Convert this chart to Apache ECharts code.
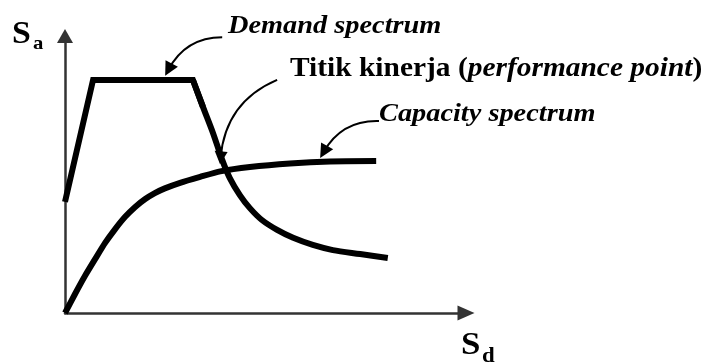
<!DOCTYPE html>
<html>
<head>
<meta charset="utf-8">
<script src="https://cdn.jsdelivr.net/npm/echarts@6/dist/echarts.min.js"></script>
<style>
  html, body { margin: 0; padding: 0; background: #fff; }
  #main { width: 706px; height: 363px; }
</style>
</head>
<body>
<div id="main"></div>
<script>
// demand spectrum: straight rise + plateau, then the falling curve
var demandRise = [[0, 2.81], [0.70, 5.89], [3.19, 5.89], [3.44, 5.21]];
var demandFall = [[3.19, 5.89], [3.44, 5.21], [3.69, 4.55], [3.92, 3.87], [4.11, 3.41],
  [4.36, 2.98], [4.61, 2.65], [4.91, 2.35], [5.29, 2.10], [5.69, 1.90],
  [6.18, 1.72], [6.68, 1.59], [7.36, 1.49], [8.05, 1.39]];
// capacity spectrum
var capacity = [[0, 0], [0.25, 0.48], [0.50, 0.94], [0.75, 1.36], [1.00, 1.77],
  [1.25, 2.12], [1.50, 2.43], [1.75, 2.68], [2.00, 2.88], [2.24, 3.03],
  [2.49, 3.15], [2.87, 3.29], [3.37, 3.44], [3.87, 3.58], [4.61, 3.69],
  [5.61, 3.78], [6.61, 3.83], [7.76, 3.84]];
// annotation pointers (from label to curve)
var pointerDemand = [[3.92, 6.97], [2.58, 6.15]];
var pointerPoint = [[5.29, 5.89], [3.88, 3.92]];
var pointerCapacity = [[7.83, 4.85], [6.45, 4.07]];

var serif = "'Liberation Serif', 'Times New Roman', serif";
var myChart = echarts.init(document.getElementById('main'));

function curve(data, smooth) {
    return {
        type: 'line',
        data: data,
        smooth: smooth,
        symbol: 'none',
        silent: true,
        lineStyle: { color: '#000', width: 6, join: 'miter' }
    };
}

function pointer(coords, size) {
    return {
        type: 'lines',
        coordinateSystem: 'cartesian2d',
        silent: true,
        symbol: ['none', 'triangle'],
        symbolSize: size,
        lineStyle: { color: '#000', width: 2, opacity: 1, curveness: -0.3 },
        data: [{ coords: coords }]
    };
}

function label(text, x, y, size, extra) {
    var style = {
        text: text,
        fill: '#000',
        font: 'bold ' + size + 'px ' + serif,
        align: 'left',
        verticalAlign: 'middle'
    };
    for (var k in extra) style[k] = extra[k];
    return { type: 'text', x: x, y: y, scaleX: 1.09, style: style };
}

var option = {
    animation: false,
    grid: { left: 65, top: 36, right: 240, bottom: 50 },
    xAxis: {
        type: 'value', min: 0, max: 10,
        splitLine: { show: false }, axisTick: { show: false }, axisLabel: { show: false },
        axisLine: { lineStyle: { color: '#333', width: 2.5 }, symbol: ['none', 'triangle'], symbolSize: [15, 17] }
    },
    yAxis: {
        type: 'value', min: 0, max: 7,
        splitLine: { show: false }, axisTick: { show: false }, axisLabel: { show: false },
        axisLine: { lineStyle: { color: '#333', width: 2.5 }, symbol: ['none', 'triangle'], symbolSize: [16, 14] }
    },
    series: [
        curve(demandRise, false),
        curve(demandFall, 0.3),
        curve(capacity, 0.2),
        pointer(pointerDemand, [18, 14]),
        pointer(pointerPoint, [12, 13]),
        pointer(pointerCapacity, [17, 14])
    ],
    graphic: [
        label('Demand spectrum', 228, 26, 26, { font: 'italic bold 26px ' + serif }),
        label('{b|Titik kinerja (}{i|performance point}{b|)}', 290, 69, 27, {
            rich: {
                b: { fontFamily: serif, fontWeight: 'bold', fontSize: 27 },
                i: { fontFamily: serif, fontWeight: 'bold', fontStyle: 'italic', fontSize: 27 }
            }
        }),
        label('Capacity spectrum', 379, 114, 26, { font: 'italic bold 26px ' + serif }),
        label('S', 12, 35, 31),
        label('a', 33, 44, 19),
        label('S', 461, 346, 32),
        label('d', 482, 357, 21)
    ]
};

myChart.setOption(option);
</script>
</body>
</html>
